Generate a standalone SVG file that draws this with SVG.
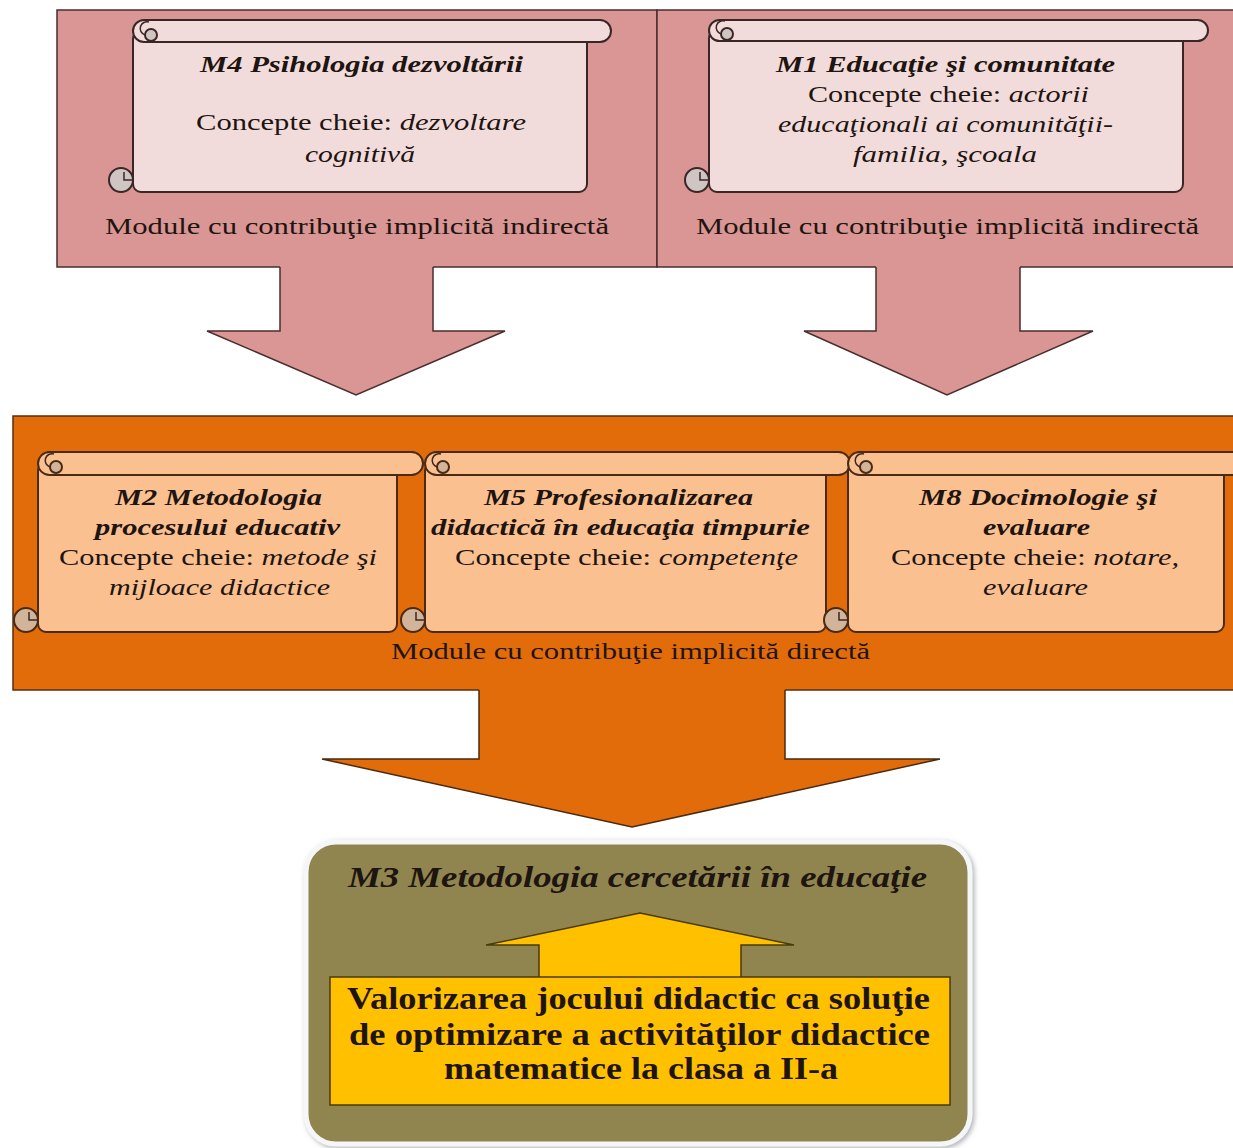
<svg xmlns="http://www.w3.org/2000/svg" width="1233" height="1148" viewBox="0 0 1233 1148">
<defs>
<style>
.t{font-family:"Liberation Serif","Times New Roman",serif;fill:#1e1410;}
.bi{font-weight:bold;font-style:italic;}
.i{font-style:italic;}
.b{font-weight:bold;}
.pinkpanel{fill:#D99694;stroke:#4a2e2e;stroke-width:1.5;}
.pinkarrow{fill:#D99694;stroke:none;}
.pinkline{fill:none;stroke:#4a2e2e;stroke-width:1.5;stroke-linejoin:miter;}
.orpanel{fill:#E36C0A;stroke:#5a2e10;stroke-width:1.5;}
.orarrow{fill:#E36C0A;stroke:none;}
.orline{fill:none;stroke:#4a2a10;stroke-width:1.5;}
.scrollP{fill:#F2DCDB;stroke:#3b2626;stroke-width:2;}
.scrollO{fill:#FAC090;stroke:#4a2a14;stroke-width:2;}
.curl{fill:#CFC5C2;stroke:#3b2626;stroke-width:2;}
.curlO{fill:#D2B49A;stroke:#4a2a14;stroke-width:2;}
.hook{fill:none;stroke:#3b2626;stroke-width:1.5;}
</style>
<filter id="glow" x="-5%" y="-5%" width="110%" height="110%">
<feDropShadow dx="2" dy="2" stdDeviation="2.5" flood-color="#7a8088" flood-opacity="0.6"/>
</filter>
</defs>

<!-- top pink panels -->
<g id="panel-top-left">
<rect class="pinkpanel" x="57" y="10" width="600" height="257"/>
</g>
<g id="panel-top-right">
<rect class="pinkpanel" x="657" y="10" width="590" height="257"/>
</g>

<!-- middle orange band -->
<g id="panel-middle">
<rect class="orpanel" x="13" y="416" width="1235" height="274"/>
</g>

<g id="connectors">
<polygon class="pinkarrow" points="280,264 433,264 433,331 505,331 356,395 207,331 280,331"/>
<polyline class="pinkline" points="280,267 280,331 207,331 356,395 505,331 433,331 433,267"/>
<polygon class="pinkarrow" points="876,264 1020,264 1020,331 1093,331 947,395 804,331 876,331"/>
<polyline class="pinkline" points="876,267 876,331 804,331 947,395 1093,331 1020,331 1020,267"/>
<polygon class="orarrow" points="479,688 785,688 785,759 940,759 632,827 322,759 479,759"/>
<polyline class="orline" points="479,690 479,759 322,759 632,827 940,759 785,759 785,690"/>
</g>

<!-- M4 scroll -->
<g id="node-m4">
<rect class="scrollP" x="133" y="31" width="454" height="161" rx="8"/>
<rect class="scrollP" x="133" y="20" width="478" height="22" rx="11"/>
<circle class="curl" cx="151" cy="35" r="6"/>
<path class="hook" d="M145,35 a6,6 0 0 1 4,-13"/>
<circle class="curl" cx="121" cy="180" r="12"/>
<path class="hook" d="M124,172 v8 h9"/>
<text class="t bi" x="200" y="72" font-size="24" textLength="323" lengthAdjust="spacingAndGlyphs">M4 Psihologia dezvoltării</text>
<text class="t" x="196" y="130" font-size="24" textLength="330" lengthAdjust="spacingAndGlyphs">Concepte cheie: <tspan class="i">dezvoltare</tspan></text>
<text class="t i" x="305" y="162" font-size="24" textLength="110" lengthAdjust="spacingAndGlyphs">cognitivă</text>
<text class="t" x="105" y="234" font-size="24" textLength="504" lengthAdjust="spacingAndGlyphs">Module cu contribuţie implicită indirectă</text>
</g>

<!-- M1 scroll -->
<g id="node-m1">
<rect class="scrollP" x="709" y="30" width="474" height="162" rx="8"/>
<rect class="scrollP" x="709" y="20" width="499" height="21" rx="10.5"/>
<circle class="curl" cx="727" cy="34" r="6"/>
<path class="hook" d="M721,34 a6,6 0 0 1 4,-13"/>
<circle class="curl" cx="697" cy="180" r="12"/>
<path class="hook" d="M700,172 v8 h9"/>
<text class="t bi" x="776" y="72" font-size="24" textLength="339" lengthAdjust="spacingAndGlyphs">M1 Educaţie şi comunitate</text>
<text class="t" x="808" y="102" font-size="24" textLength="281" lengthAdjust="spacingAndGlyphs">Concepte cheie: <tspan class="i">actorii</tspan></text>
<text class="t i" x="778" y="132" font-size="24" textLength="335" lengthAdjust="spacingAndGlyphs">educaţionali ai comunităţii-</text>
<text class="t i" x="853" y="162" font-size="24" textLength="184" lengthAdjust="spacingAndGlyphs">familia, şcoala</text>
<text class="t" x="696" y="234" font-size="24" textLength="503" lengthAdjust="spacingAndGlyphs">Module cu contribuţie implicită indirectă</text>
</g>

<!-- M2 scroll -->
<g id="node-m2">
<rect class="scrollO" x="38" y="463" width="359" height="169" rx="8"/>
<rect class="scrollO" x="38" y="452" width="385" height="23" rx="11.5"/>
<circle class="curlO" cx="56" cy="467" r="6"/>
<path class="hook" d="M50,467 a6,6 0 0 1 4,-13"/>
<circle class="curlO" cx="26" cy="620" r="12"/>
<path class="hook" d="M29,612 v8 h9"/>
<text class="t bi" x="115" y="505" font-size="24" textLength="207" lengthAdjust="spacingAndGlyphs">M2 Metodologia</text>
<text class="t bi" x="95" y="535" font-size="24" textLength="245" lengthAdjust="spacingAndGlyphs">procesului educativ</text>
<text class="t" x="59" y="565" font-size="24" textLength="318" lengthAdjust="spacingAndGlyphs">Concepte cheie: <tspan class="i">metode şi</tspan></text>
<text class="t i" x="109" y="595" font-size="24" textLength="221" lengthAdjust="spacingAndGlyphs">mijloace didactice</text>
</g>

<!-- M5 scroll -->
<g id="node-m5">
<rect class="scrollO" x="425" y="463" width="401" height="169" rx="8"/>
<rect class="scrollO" x="425" y="452" width="425" height="23" rx="11.5"/>
<circle class="curlO" cx="443" cy="467" r="6"/>
<path class="hook" d="M437,467 a6,6 0 0 1 4,-13"/>
<circle class="curlO" cx="413" cy="620" r="12"/>
<path class="hook" d="M416,612 v8 h9"/>
<text class="t bi" x="484" y="505" font-size="24" textLength="269" lengthAdjust="spacingAndGlyphs">M5 Profesionalizarea</text>
<text class="t bi" x="431" y="535" font-size="24" textLength="379" lengthAdjust="spacingAndGlyphs">didactică în  educaţia timpurie</text>
<text class="t" x="455" y="565" font-size="24" textLength="343" lengthAdjust="spacingAndGlyphs">Concepte cheie: <tspan class="i">competenţe</tspan></text>
</g>

<!-- M8 scroll -->
<g id="node-m8">
<rect class="scrollO" x="848" y="463" width="376" height="169" rx="8"/>
<rect class="scrollO" x="848" y="452" width="400" height="23" rx="11.5"/>
<circle class="curlO" cx="866" cy="467" r="6"/>
<path class="hook" d="M860,467 a6,6 0 0 1 4,-13"/>
<circle class="curlO" cx="836" cy="620" r="12"/>
<path class="hook" d="M839,612 v8 h9"/>
<text class="t bi" x="919" y="505" font-size="24" textLength="238" lengthAdjust="spacingAndGlyphs">M8 Docimologie şi</text>
<text class="t bi" x="983" y="535" font-size="24" textLength="107" lengthAdjust="spacingAndGlyphs">evaluare</text>
<text class="t" x="891" y="565" font-size="24" textLength="288" lengthAdjust="spacingAndGlyphs">Concepte cheie: <tspan class="i">notare,</tspan></text>
<text class="t i" x="983" y="595" font-size="24" textLength="105" lengthAdjust="spacingAndGlyphs">evaluare</text>
</g>

<g id="label-middle">
<text class="t" x="391" y="659" font-size="24" textLength="479" lengthAdjust="spacingAndGlyphs">Module cu contribuţie implicită directă</text>
</g>

<!-- M3 box -->
<g id="node-m3">
<rect x="306" y="842" width="664" height="302" rx="30" fill="#908550" stroke="#f4f6f8" stroke-width="5" filter="url(#glow)"/>
<text class="t bi" x="348" y="887" font-size="30" textLength="579" lengthAdjust="spacingAndGlyphs">M3 Metodologia cercetării în educaţie</text>
<polygon points="539,978 539,945 486,945 640,913 794,945 741,945 741,978" fill="#FFC000" stroke="#4a3a10" stroke-width="1.5"/>
<rect x="330" y="977" width="620" height="128" fill="#FFC000" stroke="#4a3a10" stroke-width="1.5"/>
<text class="t b" x="347" y="1009" font-size="32" textLength="583" lengthAdjust="spacingAndGlyphs">Valorizarea jocului didactic ca soluţie</text>
<text class="t b" x="349" y="1045" font-size="32" textLength="581" lengthAdjust="spacingAndGlyphs">de optimizare a activităţilor didactice</text>
<text class="t b" x="444" y="1079" font-size="32" textLength="394" lengthAdjust="spacingAndGlyphs">matematice la clasa a II-a</text>
</g>
</svg>
